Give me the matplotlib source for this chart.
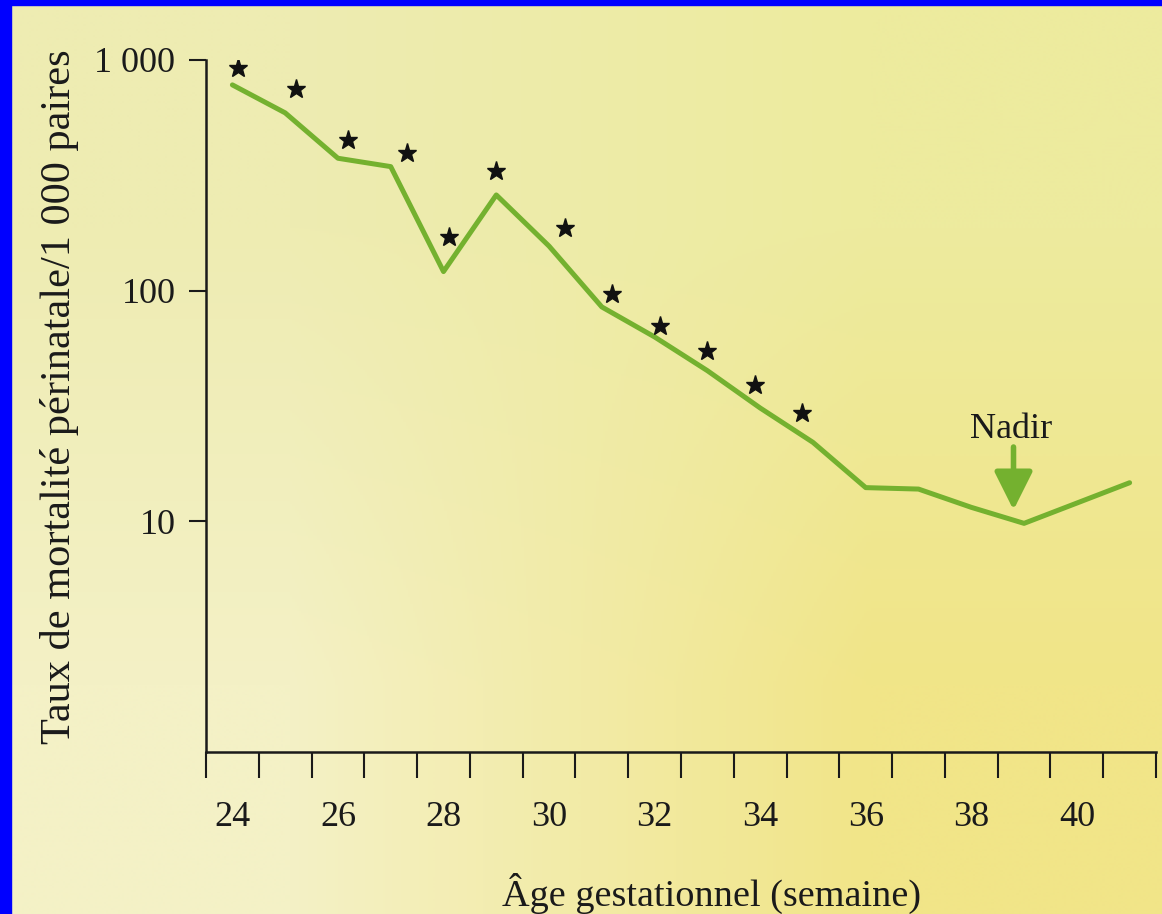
import numpy as np
import matplotlib
matplotlib.use('Agg')
from matplotlib import pyplot as plt
from matplotlib.ticker import FixedLocator, NullFormatter, FixedFormatter

plt.rcParams.update({'font.family': ['Liberation Serif', 'DejaVu Serif'],
                     'font.size': 26})

# mortalité périnatale (courbe) par semaine de gestation
weeks = [24, 25, 26, 27, 28, 29, 30, 31, 32, 33, 34, 35, 36, 37, 38, 39, 40, 41]
mortality = [780, 590, 375, 345, 121, 260, 156, 85, 63, 45, 31, 22, 14, 13.8, 11.5, 9.8, 12.0, 14.7]

# semaines marquées d'une étoile
star_weeks = [24.1, 25.2, 26.2, 27.3, 28.1, 29.0, 30.3, 31.2, 32.1, 33.0, 33.9, 34.8]
star_values = [923, 749, 450, 396, 171, 331, 187, 97, 70, 55, 39, 29.4]

nadir_week = 38.8
week_labels = [24, 26, 28, 30, 32, 34, 36, 38, 40]
green = '#74b12f'

fig = plt.figure(figsize=(11.62, 9.14), dpi=100)

# fond papier jaune
bg = fig.add_axes([0, 0, 1, 1], zorder=-10)
paper = np.array([[[238, 236, 178], [237, 235, 158]],
                  [[244, 241, 198], [241, 229, 136]]]) / 255.0
bg.imshow(paper, extent=[0, 1, 0, 1], aspect='auto', interpolation='bilinear')
bg.axis('off')
fig.patches.append(plt.Rectangle((0, 0), 11 / 1162, 1, transform=fig.transFigure,
                                 color='#0000ff', zorder=5))
fig.patches.append(plt.Rectangle((0, 1 - 5 / 914), 1, 5 / 914, transform=fig.transFigure,
                                 color='#0000ff', zorder=5))

ax = fig.add_axes([206 / 1162, 1 - 752 / 914, 950 / 1162, 692 / 914])
ax.patch.set_alpha(0)
ax.set_yscale('log')
ax.set_xlim(23.5, 41.5)
ax.set_ylim(1, 1000)

ax.plot(weeks, mortality, color=green, lw=3.6, solid_joinstyle='round', solid_capstyle='round')
ax.plot(star_weeks, star_values, ls='none', marker='*', ms=14, color='#111111')

ax.annotate('', xy=(nadir_week, 11.2), xytext=(nadir_week, 21),
            arrowprops=dict(arrowstyle='-|>,head_width=0.45,head_length=0.9',
                            color=green, lw=4, shrinkA=0, shrinkB=0))
ax.text(nadir_week - 0.05, 25, 'Nadir', ha='center', va='center', fontsize=26, color='#1a1a1a')

for s in ['top', 'right']:
    ax.spines[s].set_visible(False)
for s in ['left', 'bottom']:
    ax.spines[s].set_linewidth(1.8)
    ax.spines[s].set_color('#1a1a1a')
ax.spines['left'].set_bounds(1, 1000)

# graduations aux limites de semaine, libellés au milieu
ax.xaxis.set_major_locator(FixedLocator(np.arange(23.5, 41.6, 1)))
ax.xaxis.set_major_formatter(NullFormatter())
ax.xaxis.set_minor_locator(FixedLocator(week_labels))
ax.xaxis.set_minor_formatter(FixedFormatter([str(w) for w in week_labels]))
ax.tick_params(axis='x', which='major', direction='out', length=19, width=1.5, color='#1a1a1a')
ax.tick_params(axis='x', which='minor', length=0, pad=35, labelsize=26, labelcolor='#1a1a1a')

ax.yaxis.set_major_locator(FixedLocator([10, 100, 1000]))
ax.yaxis.set_major_formatter(FixedFormatter(['10', '100', '1 000']))
ax.yaxis.set_minor_locator(FixedLocator([]))
ax.tick_params(axis='y', which='major', direction='out', length=12, width=1.5,
               color='#1a1a1a', pad=10, labelsize=26, labelcolor='#1a1a1a')

fig.text(712 / 1162, 1 - 893 / 914, 'Âge gestationnel (semaine)', ha='center', va='center',
         fontsize=27.5, color='#1a1a1a')
fig.text(60 / 1162, 1 - 397 / 914, 'Taux de mortalité périnatale/1 000 paires', ha='center',
         va='center', rotation=90, fontsize=30.5, color='#1a1a1a')

fig.savefig('out.png', dpi=100)
